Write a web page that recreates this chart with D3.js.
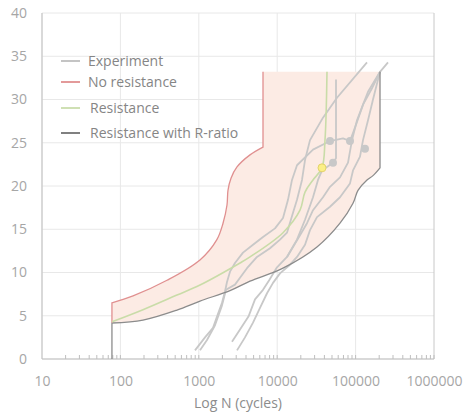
<!DOCTYPE html>
<html>
<head>
<meta charset="utf-8">
<script src="https://cdn.jsdelivr.net/npm/d3@7"></script>
<style>
  body { margin: 0; background: #fff; }
  text { font-family: 'Open Sans', sans-serif; }
</style>
</head>
<body>
<div id="chart"></div>
<script>
// ---------- DATA (N cycles, value) ----------
const xTicks = [10, 100, 1000, 10000, 100000, 1000000];
const yTicks = [0, 5, 10, 15, 20, 25, 30, 35, 40];

const noResistance = [
  [78, 4.2], [78, 6.5], [145, 7.3], [393, 9.1], [1035, 11.45], [1700, 13.8],
  [2037, 15.7], [2289, 17.8], [2356, 19.5], [2575, 20.9], [3070, 22.2],
  [4498, 23.6], [6590, 24.5], [6590, 33.2]
];
const resistance = [
  [78, 4.3], [194, 5.7], [527, 7.4], [1035, 8.55], [3358, 11.1], [4499, 11.8],
  [11858, 14.6], [19537, 17.2], [22632, 19.3], [28620, 20.7], [37270, 22.1],
  [40700, 25.3], [43170, 33.2]
];
const rRatio = [
  [78, 0], [78, 4.16], [194, 4.5], [527, 5.66], [1036, 6.7], [2500, 7.9],
  [4499, 9.0], [11858, 10.5], [32180, 12.95], [63240, 15.7], [92650, 18.0],
  [107300, 19.5], [139800, 20.7], [166700, 21.2], [204800, 22.1], [204800, 33.2]
];
const shadeTop = 33.2;

const experiments = [
  [[894, 1.0], [1200, 2.5], [1518, 3.6], [1707, 4.9], [1977, 6.5], [2159, 7.8],
   [2289, 8.9], [2500, 10.1], [2895, 11.1], [3662, 12.3], [4914, 13.2],
   [6591, 14.1], [9375, 15.1], [11858, 16.3], [13734, 18.4], [15448, 20.7],
   [17887, 22.4], [28620, 24.2], [47160, 25.2], [69070, 25.5], [84830, 25.2],
   [104200, 27.4], [124300, 29.4], [144000, 30.9], [204800, 33.2]],
  [[1036, 1.0], [1272, 2.2], [1609, 3.9], [1977, 6.2], [2223, 8.0], [2895, 8.6],
   [3354, 9.4], [4119, 10.5], [5525, 11.8], [8095, 12.8], [10856, 13.8],
   [13335, 14.6], [15906, 16.9], [17887, 18.4], [20721, 20.7], [22632, 23.0],
   [26210, 25.3], [38380, 27.9], [57910, 30.2], [139800, 34.3]],
  [[2651, 2.0], [3354, 3.4], [4300, 4.9], [5212, 6.9], [6591, 8.0], [7900, 9.1],
   [9940, 10.6], [13335, 11.8], [19537, 14.3], [24000, 15.7], [28620, 17.2],
   [38380, 18.7], [47160, 19.9], [63240, 21.0], [80000, 22.7], [89970, 25.3],
   [104200, 27.6], [124300, 29.4], [161900, 31.3], [204800, 33.2], [259000, 34.3]],
  [[3071, 1.0], [3884, 2.5], [4914, 4.2], [6035, 5.9], [7414, 7.6], [8842, 8.8],
   [10856, 9.9], [14566, 10.9], [17887, 11.8], [22632, 13.2], [26210, 14.9],
   [32180, 16.4], [47160, 17.6], [63240, 18.7], [84830, 20.3], [92650, 21.8],
   [113800, 23.4], [124300, 25.3], [144000, 27.6], [166700, 30.0],
   [193100, 32.3], [204800, 33.2]],
  [[13335, 11.8], [17887, 13.8], [22632, 16.1], [28620, 18.7], [33140, 20.7],
   [37270, 21.8], [51490, 22.7], [56230, 23.2], [56230, 32.3]]
];
const expDots = [[47160, 25.2], [84830, 25.2], [131800, 24.3], [51490, 22.7]];
const yellowDot = [37270, 22.1];

const legendItems = [
  { label: 'Experiment', color: '#c4c4c4' },
  { label: 'No resistance', color: '#e39a9a' },
  { label: 'Resistance', color: '#cfe0b4' },
  { label: 'Resistance with R-ratio', color: '#808080' }
];

// ---------- SVG ----------
const width = 464, height = 414;
const svg = d3.select('#chart').append('svg')
  .attr('width', width).attr('height', height);

const x = d3.scaleLog().domain([10, 1000000]).range([42, 434]);
const y = d3.scaleLinear().domain([0, 40]).range([359, 13]);

// grid
svg.append('g').selectAll('line').data(yTicks).enter().append('line')
  .attr('x1', 42).attr('x2', 434)
  .attr('y1', d => y(d)).attr('y2', d => y(d))
  .attr('stroke', '#e8e8e8').attr('stroke-width', 1);
svg.append('g').selectAll('line').data(xTicks).enter().append('line')
  .attr('x1', d => x(d)).attr('x2', d => x(d))
  .attr('y1', 13).attr('y2', 359)
  .attr('stroke', d => d === 1000000 ? '#c8c8c8' : '#e8e8e8').attr('stroke-width', 1);

const line = d3.line().x(d => x(d[0])).y(d => y(d[1]));
const smooth = d3.line().x(d => x(d[0])).y(d => y(d[1]))
  .curve(d3.curveCatmullRom.alpha(0.5));
const pt = d => x(d[0]) + ',' + y(d[1]);

// straight vertical ends, smooth middle part
function modelPath(pts, straightHead, straightTail) {
  const mid = pts.slice(straightHead ? 1 : 0, straightTail ? pts.length - 1 : pts.length);
  let p = straightHead ? 'M' + pt(pts[0]) + smooth(mid).replace(/^M/, 'L') : smooth(mid);
  if (straightTail) p += 'L' + pt(pts[pts.length - 1]);
  return p;
}

// shaded area between no-resistance and R-ratio
const upperPath = modelPath(noResistance.slice(1), false, true);
const lowerPath = modelPath(rRatio.slice(1).reverse(), true, false);
const topRight = [rRatio[rRatio.length - 1][0], shadeTop];
svg.append('path')
  .attr('d', upperPath + 'L' + pt(topRight) + lowerPath.replace(/^M/, 'L') + 'Z')
  .attr('fill', '#fcebe4');

// axes lines
svg.append('line').attr('x1', 42).attr('x2', 42).attr('y1', 13).attr('y2', 359)
  .attr('stroke', '#bfbfbf');
svg.append('line').attr('x1', 42).attr('x2', 434).attr('y1', 359).attr('y2', 359)
  .attr('stroke', '#bfbfbf');

// minor ticks
const minor = [];
for (let d = 10; d < 1000000; d *= 10) {
  for (let k = 2; k <= 10; k++) minor.push(k * d);
}
svg.append('g').selectAll('line').data(minor).enter().append('line')
  .attr('x1', d => x(d)).attr('x2', d => x(d))
  .attr('y1', 359).attr('y2', 355)
  .attr('stroke', '#bfbfbf');

// tick labels
const xAxis = svg.append('g')
  .attr('transform', 'translate(0,359)')
  .call(d3.axisBottom(x).tickValues(xTicks).tickSize(0).tickPadding(17)
    .tickFormat(d3.format('d')));
xAxis.select('.domain').remove();
xAxis.selectAll('text').attr('fill', '#a6a6a6').style('font-size', '14px')
  .style('font-family', "'Open Sans', sans-serif");

const yAxis = svg.append('g')
  .attr('transform', 'translate(42,0)')
  .call(d3.axisLeft(y).tickValues(yTicks).tickSize(0).tickPadding(15));
yAxis.select('.domain').remove();
yAxis.selectAll('text').attr('fill', '#a6a6a6').style('font-size', '14px')
  .style('font-family', "'Open Sans', sans-serif");

svg.append('text')
  .attr('x', 238).attr('y', 408)
  .attr('text-anchor', 'middle')
  .attr('fill', '#8c8c8c').style('font-size', '14px')
  .text('Log N (cycles)');

// experiment lines
svg.append('g').selectAll('path').data(experiments).enter().append('path')
  .attr('d', d => line(d))
  .attr('fill', 'none')
  .attr('stroke', '#c8c8c8')
  .attr('stroke-width', 1.8)
  .attr('stroke-linejoin', 'round');

// model lines
svg.append('path').attr('d', modelPath(rRatio, true, true)).attr('fill', 'none')
  .attr('stroke', '#8c8c8c').attr('stroke-width', 1.3);
svg.append('path').attr('d', modelPath(noResistance, true, true)).attr('fill', 'none')
  .attr('stroke', '#e09090').attr('stroke-width', 1.3);
svg.append('path').attr('d', smooth(resistance)).attr('fill', 'none')
  .attr('stroke', '#c9dca8').attr('stroke-width', 1.6);

// dots
svg.append('g').selectAll('circle').data(expDots).enter().append('circle')
  .attr('cx', d => x(d[0])).attr('cy', d => y(d[1]))
  .attr('r', 4).attr('fill', '#c8c8c8');
svg.append('circle')
  .attr('cx', x(yellowDot[0])).attr('cy', y(yellowDot[1]))
  .attr('r', 4).attr('fill', '#fbef86').attr('stroke', '#e3d36a').attr('stroke-width', 1);

// legend
const legend = svg.append('g');
const legY = [61, 82, 108, 133];
legendItems.forEach((item, i) => {
  legend.append('line')
    .attr('x1', 61).attr('x2', 80)
    .attr('y1', legY[i]).attr('y2', legY[i])
    .attr('stroke', item.color).attr('stroke-width', 2);
  legend.append('text')
    .attr('x', i < 2 ? 88 : 90).attr('y', legY[i])
    .attr('dy', '0.35em')
    .attr('fill', '#858585').style('font-size', '14px')
    .text(item.label);
});
</script>
</body>
</html>
